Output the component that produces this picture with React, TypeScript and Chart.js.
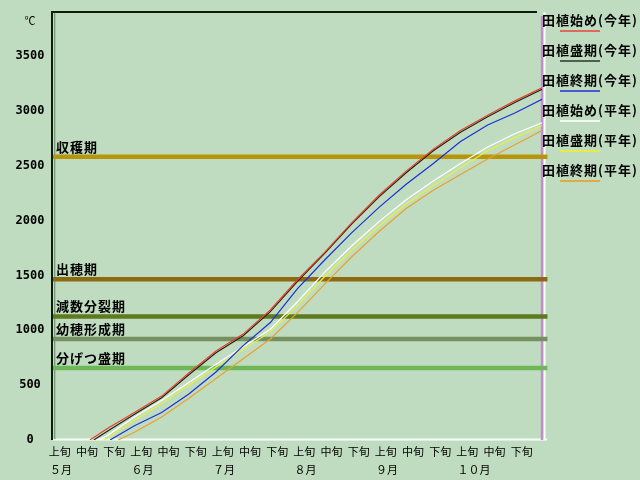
import React, { useEffect, useRef } from "react";
import { Chart, registerables } from "chart.js";

Chart.register(...registerables);

// ---- data ----
const dekadLabels = ["上旬", "中旬", "下旬"];
const monthLabels = ["５月", "６月", "７月", "８月", "９月", "１０月"];
const yTicks = [0, 500, 1000, 1500, 2000, 2500, 3000, 3500];

// x positions in dekads from 1 May (0) to 31 Oct (18)
const gridX = [2, 3, 4, 5, 6, 7, 8, 9, 10, 11, 12, 13, 14, 15, 16, 17, 18];

const seriesNames = [
  "田植始め(今年)",
  "田植盛期(今年)",
  "田植終期(今年)",
  "田植始め(平年)",
  "田植盛期(平年)",
  "田植終期(平年)",
];
const seriesStarts = [1.36, 1.5, 2.1, 1.65, 1.9, 2.4];

const startThisYear = [105, 250, 400, 610, 810, 965, 1185, 1460, 1710, 1980, 2230, 2450, 2650, 2820, 2960, 3090, 3210];
const peakThisYear = [80, 235, 385, 595, 795, 950, 1170, 1445, 1700, 1970, 2215, 2435, 2635, 2805, 2945, 3075, 3195];
const endThisYear = [null, 130, 250, 420, 620, 860, 1070, 1380, 1640, 1890, 2120, 2330, 2520, 2720, 2870, 2980, 3105];
const startNormal = [40, 210, 360, 525, 690, 850, 1010, 1260, 1530, 1770, 1990, 2190, 2360, 2520, 2670, 2790, 2891];
const peakNormal = [15, 180, 335, 500, 665, 825, 985, 1225, 1490, 1730, 1950, 2150, 2320, 2480, 2635, 2755, 2864];
const endNormal = [null, 70, 210, 380, 560, 740, 920, 1160, 1420, 1670, 1900, 2110, 2275, 2420, 2560, 2690, 2820];

const seriesValues = [startThisYear, peakThisYear, endThisYear, startNormal, peakNormal, endNormal];
const seriesColors = ["#e8402c", "#1a261a", "#1830d8", "#ffffff", "#e8f040", "#e8a030"];
const legendColors = ["#e06a58", "#4e604e", "#4858d0", "#f4f8f4", "#e4ec48", "#e4a844"];

const bandLabels = ["収穫期", "出穂期", "減数分裂期", "幼穂形成期", "分げつ盛期"];
const bandValues = [2580, 1465, 1125, 920, 655];
const bandColors = ["#b8960c", "#8c6a12", "#5f7a1e", "#74905e", "#6cb858"];

const BG = "#c0dcc0";
const CJK = "'Noto Sans CJK JP', sans-serif";

const decorPlugin = {
  id: "decor",
  beforeDraw(chart: any) {
    const ctx = chart.ctx;
    ctx.save();
    ctx.fillStyle = BG;
    ctx.fillRect(0, 0, chart.width, chart.height);
    ctx.restore();
  },
  beforeDatasetsDraw(chart: any) {
    const ctx = chart.ctx;
    const { left, right, top, bottom } = chart.chartArea;
    ctx.save();
    // bottom white border
    ctx.strokeStyle = "#f8fff8";
    ctx.lineWidth = 2;
    ctx.beginPath();
    ctx.moveTo(left, bottom - 0.5);
    ctx.lineTo(right + 5, bottom - 0.5);
    ctx.stroke();
    // right purple + white
    ctx.strokeStyle = "#f8fff8";
    ctx.lineWidth = 2;
    ctx.beginPath();
    ctx.moveTo(right + 2.5, top);
    ctx.lineTo(right + 2.5, bottom);
    ctx.stroke();
    ctx.strokeStyle = "#c08ec8";
    ctx.lineWidth = 2.5;
    ctx.beginPath();
    ctx.moveTo(right, top + 4);
    ctx.lineTo(right, bottom);
    ctx.stroke();
    // left shadow
    ctx.strokeStyle = "#7c9a7c";
    ctx.lineWidth = 1;
    ctx.beginPath();
    ctx.moveTo(left + 1.5, top + 1);
    ctx.lineTo(left + 1.5, bottom - 1);
    ctx.stroke();
    ctx.strokeStyle = "#a6c4a6";
    ctx.beginPath();
    ctx.moveTo(left + 2.5, top + 2);
    ctx.lineTo(left + 2.5, bottom - 1);
    ctx.stroke();
    // top and left dark
    ctx.strokeStyle = "#0e1e0e";
    ctx.lineWidth = 2;
    ctx.beginPath();
    ctx.moveTo(right - 5, top);
    ctx.lineTo(left - 1, top);
    ctx.lineTo(left - 1, bottom);
    ctx.stroke();
    ctx.restore();
  },
  afterDatasetsDraw(chart: any) {
    const ctx = chart.ctx;
    const xs = chart.scales.x;
    const ys = chart.scales.y;
    ctx.save();
    ctx.fillStyle = "#000";
    ctx.textBaseline = "middle";

    // y tick labels
    ctx.font = "bold 12px 'DejaVu Sans Mono', monospace";
    ctx.textAlign = "center";
    yTicks.forEach((v) => {
      ctx.fillText(String(v), 30, ys.getPixelForValue(v));
    });
    ctx.font = `11px ${CJK}`;
    ctx.fillText("℃", 30, 21);

    // x labels
    ctx.font = `11px ${CJK}`;
    ctx.textAlign = "center";
    for (let i = 0; i < 18; i++) {
      ctx.fillText(dekadLabels[i % 3], xs.getPixelForValue(i + 0.25), 452);
    }
    ctx.textAlign = "left";
    monthLabels.forEach((m, k) => {
      ctx.fillText(m, xs.getPixelForValue(k * 3) - 3, 470);
    });

    // band labels
    ctx.font = `bold 13px ${CJK}`;
    (ctx as any).letterSpacing = "1px";
    ctx.textAlign = "left";
    bandLabels.forEach((t, i) => {
      ctx.fillText(t, xs.getPixelForValue(0) + 3, ys.getPixelForValue(bandValues[i]) - 10);
    });

    // legend
    seriesNames.forEach((t, i) => {
      ctx.fillStyle = "#000";
      ctx.fillText(t, 542, 20 + 30 * i);
      ctx.strokeStyle = legendColors[i];
      ctx.lineWidth = 2;
      ctx.beginPath();
      ctx.moveTo(560, 31 + 30 * i);
      ctx.lineTo(600, 31 + 30 * i);
      ctx.stroke();
    });
    (ctx as any).letterSpacing = "0px";
    ctx.restore();
  },
};

export default function App() {
  const canvasRef = useRef<HTMLCanvasElement | null>(null);

  useEffect(() => {
    const canvas = canvasRef.current;
    if (!canvas) return;

    const lineSets = seriesValues.map((vals, si) => {
      const pts: { x: number; y: number }[] = [{ x: seriesStarts[si], y: 0 }];
      gridX.forEach((x, i) => {
        const v = vals[i];
        if (v !== null && x > seriesStarts[si]) pts.push({ x, y: v as number });
      });
      return {
        label: seriesNames[si],
        data: pts,
        borderColor: seriesColors[si],
        borderWidth: 1.2,
        pointRadius: 0,
        tension: 0,
        order: 0,
      };
    });

    const bandSets = bandValues.map((v, i) => ({
      label: bandLabels[i],
      data: [
        { x: 0, y: v },
        { x: 18.2, y: v },
      ],
      borderColor: bandColors[i],
      borderWidth: 4.5,
      pointRadius: 0,
      order: 1,
      clip: { left: 0, top: 0, right: 8, bottom: 0 },
    }));

    const chart = new Chart(canvas, {
      type: "line",
      data: { datasets: [...lineSets, ...bandSets] as any },
      plugins: [decorPlugin],
      options: {
        animation: false,
        responsive: false,
        devicePixelRatio: 1,
        layout: { padding: { left: 53, top: 12, right: 98, bottom: 40 } },
        plugins: { legend: { display: false }, tooltip: { enabled: false } },
        scales: {
          x: { type: "linear", min: 0, max: 18, display: false },
          y: { type: "linear", min: 0, max: 3900, display: false },
        },
      } as any,
    });
    return () => chart.destroy();
  }, []);

  return (
    <div style={{ position: "absolute", left: 0, top: 0, width: 640, height: 480, background: BG }}>
      <canvas ref={canvasRef} width={640} height={480} style={{ display: "block" }} />
    </div>
  );
}
